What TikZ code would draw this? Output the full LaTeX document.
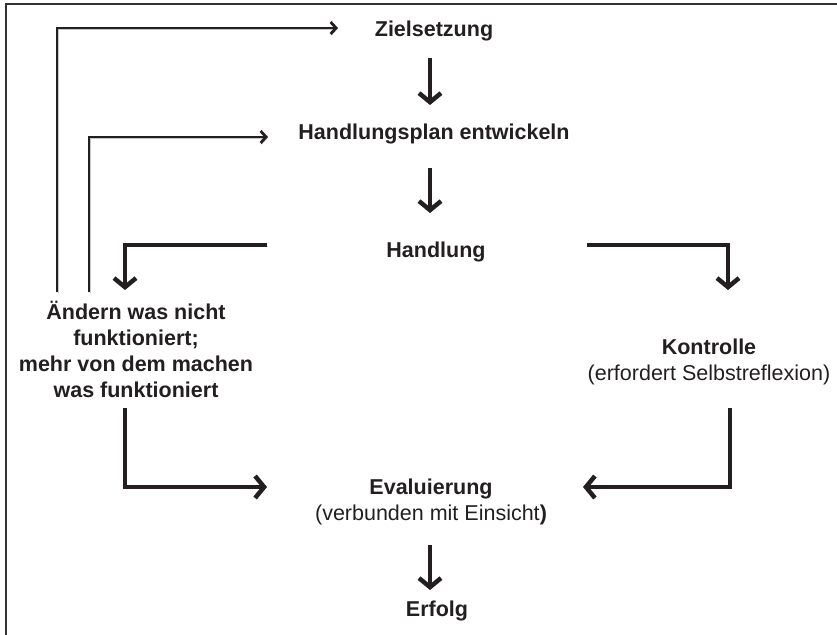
\documentclass[tikz,border=0pt]{standalone}
\usepackage{fontspec}
\setmainfont{Liberation Sans}
\usetikzlibrary{arrows.meta,calc}
\definecolor{ink}{HTML}{231F20}
\tikzset{
  lbl/.style={anchor=base, inner sep=0pt, text=ink, align=center,
    font=\fontsize{21.5}{26}\selectfont},
  shade/.style={preaction={draw=black, draw opacity=0.22,
    transform canvas={shift={(1pt,-1.4pt)}}}},
  bigflow/.style={draw=ink, line width=4.5pt, shade,
    -{Straight Barb[length=9pt,width=22pt]}},
  backflow/.style={draw=ink, line width=2.8pt, shade,
    -{Straight Barb[length=5.5pt,width=12pt]}},
  frameline/.style={draw=black!80, line width=1.3pt}
}
\begin{document}
\begin{tikzpicture}[x=1pt,y=-1pt]
\useasboundingbox (0,0) rectangle (837,634);
\draw[frameline] (6,640) -- (6,4) -- (840,4);

% steps of the cycle (base anchor = baseline of the last line)
\node[lbl] (ziel) at (434,37) {\textbf{Zielsetzung}};
\node[lbl] (plan) at (434,139) {\textbf{Handlungsplan entwickeln}};
\node[lbl] (hand) at (436,257) {\textbf{Handlung}};
\node[lbl] (aend) at (136,397) {\textbf{Ändern was nicht}\\\textbf{funktioniert;}\\\textbf{mehr von dem machen}\\\textbf{was funktioniert}};
\node[lbl] (kontr) at (709,380) {\textbf{Kontrolle}\\(erfordert Selbstreflexion)};
\node[lbl] (eval) at (431,520) {\textbf{Evaluierung}\\(verbunden mit Einsicht\textbf{)}};
\node[lbl] (erf) at (437,616) {\textbf{Erfolg}};

% main flow
\draw[bigflow] ($(ziel.base)+(-4,21)$) -- ($(plan.base)+(-4,-34)$);
\draw[bigflow] ($(plan.base)+(-4,29)$) -- ($(hand.base)+(-6,-44)$);
\draw[bigflow] ($(hand.base)+(-169,-12)$) -| ($(aend.base)+(-11,-107)$);
\draw[bigflow] ($(hand.base)+(151,-12)$) -| ($(kontr.base)+(19,-90)$);
\draw[bigflow] ($(aend.base)+(-11,11)$) |- ($(eval.base)+(-164,-33)$);
\draw[bigflow] ($(kontr.base)+(21,28)$) |- ($(eval.base)+(152,-33)$);
\draw[bigflow] ($(eval.base)+(-1,25)$) -- ($(erf.base)+(-7,-26)$);

% feedback loops
\draw[backflow] ($(aend.base)+(-79,-105)$) |- ($(ziel.base)+(-96,-9)$);
\draw[backflow] ($(aend.base)+(-47,-105)$) |- ($(plan.base)+(-166,-2)$);
\end{tikzpicture}
\end{document}
